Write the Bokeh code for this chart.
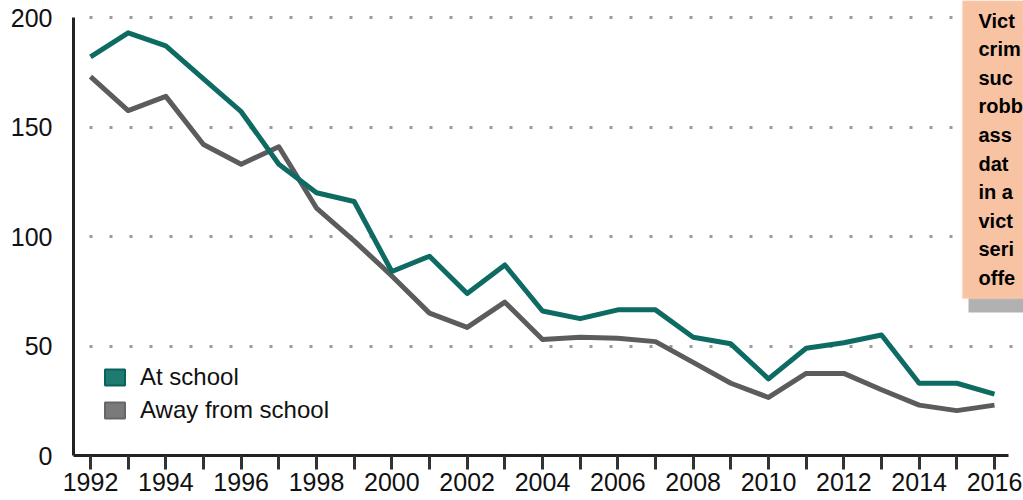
from bokeh.plotting import figure
from bokeh.models import (FixedTicker, Legend, LegendItem, BoxAnnotation,
                          ColumnDataSource)
from bokeh.core.properties import value
from bokeh.embed import file_html
from bokeh.resources import INLINE

# ---------------- data ----------------
years = list(range(1992, 2017))
at_school = [182, 193, 187, 172, 157, 133, 120, 116, 84, 91, 74, 87, 66, 62.5,
             66.5, 66.5, 54, 51, 35, 49, 51.5, 55, 33, 33, 28]
away_from_school = [173, 157.5, 164, 142, 133, 141, 113, 98, 82, 65, 58.5, 70,
                    53, 54, 53.5, 52, 42.5, 33, 26.5, 37.5, 37.5, 30, 23, 20.5, 23]
series_labels = ["At school", "Away from school"]
x_tick_labels = [str(y) for y in range(1992, 2017, 2)]
y_ticks = [0, 50, 100, 150, 200]
note_lines = ["Vict", "crim", "suc", "robb", "ass", "dat", "in a", "vict", "seri", "offe"]

# ---------------- geometry (canvas px) ----------------
W, H = 1023, 500
FL, FB = 73, 455          # frame left / bottom
PX_YR = 37.667
PX_UNIT = 2.19
x_start = 1992 - (90 - FL) / PX_YR
x_end = 1992 + (W - 90) / PX_YR
y_end = 200 + 17 / PX_UNIT
y_start = 0.0


def xd(cx):
    return x_start + (cx - FL) / PX_YR


def yd(cy):
    return y_end - cy / PX_UNIT


TEAL = "#0e6b63"
GRAY = "#5c5c5c"
FONT = "Liberation Sans"

p = figure(width=W, height=H, output_backend="svg", toolbar_location=None,
           x_range=(x_start, x_end), y_range=(y_start, y_end),
           min_border_left=FL, min_border_right=0, min_border_top=0,
           min_border_bottom=H - FB)
p.outline_line_color = None
p.background_fill_color = "white"
p.border_fill_color = "white"

# grid
p.xgrid.visible = False
p.ygrid.ticker = FixedTicker(ticks=[50, 100, 150, 200])
p.ygrid.grid_line_color = "#9b9b9b"
p.ygrid.grid_line_width = 3
p.ygrid.grid_line_dash = "3 17"
p.ygrid.grid_line_dash_offset = 4

# note box with shadow
p.add_layout(BoxAnnotation(left=xd(968), right=None, top=yd(288), bottom=yd(312),
                           fill_color="#a3a3a3", fill_alpha=0.85, line_color=None,
                           level="underlay"))
p.add_layout(BoxAnnotation(left=xd(962), right=None, top=None, bottom=yd(298),
                           fill_color="#f8c3a2", fill_alpha=1.0, line_color="#fbd4bb",
                           line_width=2, level="underlay"))

# lines
p.line(years, away_from_school, line_width=5, line_color=GRAY, line_join="round")
p.line(years, at_school, line_width=5, line_color=TEAL, line_join="round")

# note text
note_src = ColumnDataSource(dict(x=[xd(978)] * len(note_lines),
                                 y=[yd(20 + 28.6 * i) for i in range(len(note_lines))],
                                 t=note_lines))
p.text(x="x", y="y", text="t", source=note_src, text_font=value(FONT),
       text_font_style="bold", text_font_size="20px", text_color="#000000",
       text_baseline="middle", text_align="left")

# axes
xa = p.xaxis[0]
xa.ticker = FixedTicker(ticks=list(range(1992, 2017, 2)),
                        minor_ticks=list(range(1993, 2017, 2)))
xa.major_label_overrides = {int(t): t for t in x_tick_labels}
xa.bounds = (x_start, xd(1008))
xa.axis_line_color = "#222222"
xa.axis_line_width = 3
xa.major_tick_in = 0
xa.major_tick_out = 14
xa.major_tick_line_width = 3
xa.major_tick_line_color = "#333333"
xa.minor_tick_in = 0
xa.minor_tick_out = 14
xa.minor_tick_line_width = 3
xa.minor_tick_line_color = "#333333"
xa.major_label_text_font = FONT
xa.major_label_text_font_size = "25px"
xa.major_label_text_color = "#111111"
xa.major_label_standoff = 3

ya = p.yaxis[0]
ya.ticker = FixedTicker(ticks=y_ticks)
ya.bounds = (0, 200)
ya.axis_line_color = "#222222"
ya.axis_line_width = 3
ya.major_tick_in = 0
ya.major_tick_out = 0
ya.minor_tick_line_color = None
ya.major_label_text_font = FONT
ya.major_label_text_font_size = "25px"
ya.major_label_text_color = "#111111"
ya.major_label_standoff = 21

# legend with square swatches (NaN rows: nothing drawn in the plot)
nan = float("nan")
sw1 = p.quad(left=[nan], right=[nan], top=[nan], bottom=[nan], fill_color="#1d7b71",
             line_color="#0c6158", line_width=2)
sw2 = p.quad(left=[nan], right=[nan], top=[nan], bottom=[nan], fill_color="#7a7a7a",
             line_color="#666666", line_width=2)
legend = Legend(items=[LegendItem(label=series_labels[0], renderers=[sw1]),
                       LegendItem(label=series_labels[1], renderers=[sw2])],
                location=(29, 31), glyph_width=25, glyph_height=20,
                label_text_font=FONT, label_text_font_size="24px",
                label_text_color="#111111", label_standoff=13, spacing=5,
                padding=0, margin=0, border_line_color=None,
                background_fill_alpha=0)
p.add_layout(legend)

open("out.html", "w").write(file_html(p, INLINE))
